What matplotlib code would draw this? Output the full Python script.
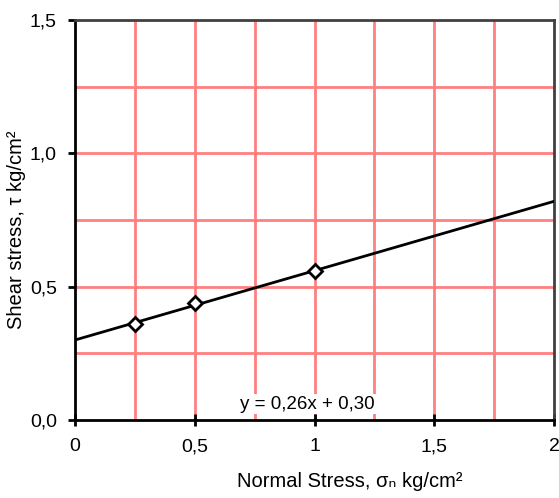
import matplotlib
matplotlib.use("Agg")
from matplotlib import pyplot as plt

# measured points and trend line
normal_stress = [0.25, 0.5, 1.0]
shear_stress = [0.36, 0.44, 0.56]
slope = 0.26
intercept = 0.30
line_x = [0.0, 2.0]

xticks = [0, 0.5, 1, 1.5, 2]
xtick_labels = ["0", "0,5", "1", "1,5", "2"]
yticks = [0, 0.5, 1.0, 1.5]
ytick_labels = ["0,0", "0,5", "1,0", "1,5"]
grid_x = [0.25, 0.5, 0.75, 1.0, 1.25, 1.5, 1.75]
grid_y = [0.25, 0.5, 0.75, 1.0, 1.25]

plt.rcParams['font.family'] = ['Liberation Sans', 'DejaVu Sans']

fig = plt.figure(figsize=(5.59, 4.98), dpi=100)
ax = fig.add_axes([75 / 559, 78 / 498, 479 / 559, 400 / 498])

for gx in grid_x:
    ax.axvline(gx, color='#ff8080', lw=2, zorder=1)
for gy in grid_y:
    ax.axhline(gy, color='#ff8080', lw=2, zorder=1)

line_y = [slope * x + intercept for x in line_x]
ax.plot(line_x, line_y, color='black', lw=2, zorder=3)
ax.plot(normal_stress, shear_stress, linestyle='none', marker='D', ms=7,
        mfc='white', mec='black', mew=2, zorder=4)

ax.text(0.97, 0.06, "y = 0,26x + 0,30", fontsize=13.5, ha='center', va='center',
        zorder=5, bbox=dict(facecolor='white', edgecolor='none', pad=1))

ax.set_xlim(0, 2)
ax.set_ylim(0, 1.5)
ax.set_xticks(xticks)
ax.set_xticklabels(xtick_labels, fontsize=14)
ax.set_yticks(yticks)
ax.set_yticklabels(ytick_labels, fontsize=14)
ax.tick_params(axis='x', direction='inout', length=8, width=2, pad=9)
ax.tick_params(axis='y', direction='out', length=5, width=2, pad=8)

for side in ['left', 'bottom']:
    ax.spines[side].set_linewidth(2)
    ax.spines[side].set_color('black')
for side in ['top', 'right']:
    ax.spines[side].set_linewidth(2)
    ax.spines[side].set_color('#404040')

ax.set_xlabel("Normal Stress, σₙ kg/cm²", fontsize=14.5)
ax.xaxis.set_label_coords(0.574, -0.13)
ax.set_ylabel("Shear stress, τ kg/cm²", fontsize=14.5)
ax.yaxis.set_label_coords(-0.102, 0.475)

plt.savefig('out.png', dpi=100)
